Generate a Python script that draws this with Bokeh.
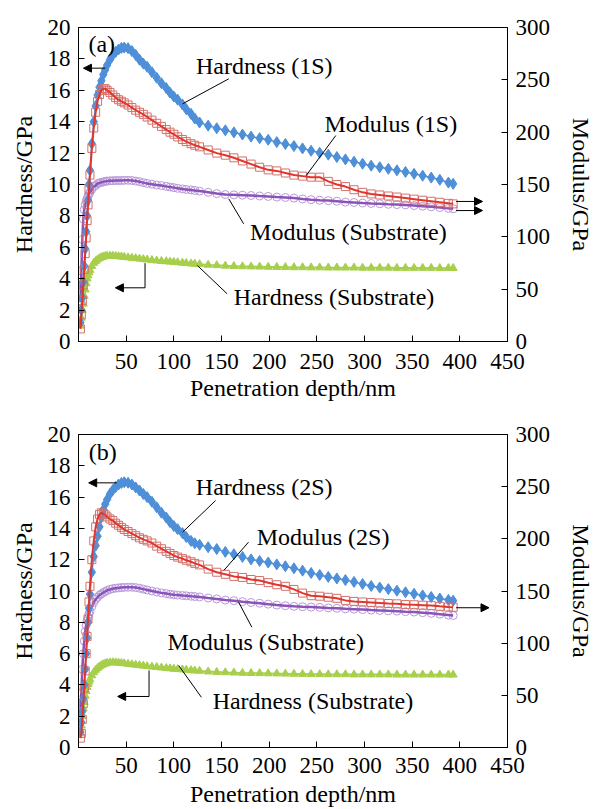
from bokeh.plotting import figure
from bokeh.models import (Range1d, LinearAxis, FixedTicker, Label, Arrow,
                          NormalHead, ColumnDataSource)
from bokeh.layouts import column
from bokeh.embed import file_html
from bokeh.resources import INLINE

# ---------------- data ----------------
depth_nm = [2, 3, 4, 5, 6, 7, 8, 9, 10, 11, 12,
            14, 16, 18, 20, 22, 24, 26, 28, 30,
            33, 36, 39, 42, 45, 48,
            52, 56, 60, 64, 68, 72,
            77, 82, 87, 92, 96, 100,
            104, 109, 113, 118, 122, 127,
            136, 145, 154, 163, 172, 181, 190,
            199, 208, 217, 226, 235, 244, 253, 262, 271, 280,
            289, 298, 307, 316, 325, 334, 343, 352, 361, 370,
            379, 388, 393]

# panel (a)
hard_1s = [1.2, 2.0, 2.8, 3.8, 4.8, 5.9, 7.0, 8.0, 9.0, 10.0, 10.9,
           12.6, 14.0, 15.0, 15.7, 16.2, 16.6, 17.0, 17.3, 17.6,
           17.95, 18.25, 18.45, 18.6, 18.7, 18.72,
           18.68, 18.5, 18.25, 17.95, 17.7, 17.5,
           17.15, 16.8, 16.45, 16.15, 15.85, 15.6,
           15.4, 15.1, 14.8, 14.5, 14.2, 13.95,
           13.75, 13.58, 13.45, 13.32, 13.18, 13.05, 12.95,
           12.85, 12.7, 12.58, 12.45, 12.3, 12.15, 12.02, 11.9, 11.75, 11.6,
           11.45, 11.32, 11.2, 11.1, 11.0, 10.9, 10.8, 10.68, 10.56, 10.44,
           10.3, 10.12, 10.04]
mod_1s = [12, 25.5, 39, 54, 69, 84, 99, 115.5, 130.5, 145.5, 159,
          184.5, 204, 219, 229.5, 236, 240, 241.5, 241.5, 240,
          238, 235.5, 233, 231, 229.5, 228,
          226, 223.5, 221, 219, 217, 214.5,
          211.5, 208.5, 205.5, 202.5, 200, 198,
          195.5, 193, 191, 189, 187.5, 186,
          183, 180, 178, 175.5, 172.5, 169.5, 166.5,
          164, 163, 161, 159, 158, 157, 157, 153, 150, 148,
          145, 142.5, 141, 140, 139, 138, 137, 136, 135, 134,
          133, 132, 131.5]
mod_sub_a = [37.5, 67.5, 97.5, 117, 126, 130.5, 134, 136.5, 139, 141, 142.5,
             145.5, 148, 149, 151, 151.5, 152, 152.5, 153, 153.3,
             153.5, 153.6, 153.8, 153.8, 153.8, 154,
             154, 153.8, 153.3, 152.7, 151.8, 151,
             150.3, 149.5, 149, 148.2, 147.6, 147,
             146.4, 145.8, 145.3, 144.8, 144.3, 143.7,
             142.5, 141.3, 140.4, 140.1, 139.8, 139.5, 139,
             138.6, 138, 137.6, 137, 136.2, 135.5, 135, 134.6, 134, 133.2,
             132.8, 132.3, 131.9, 131.6, 131.1, 130.8, 130.5, 129.9, 129.3, 128.7,
             128, 127.2, 126.8]
hard_sub_a = [1.0, 1.5, 2.0, 2.4, 2.9, 3.3, 3.7, 4.0, 4.2, 4.4, 4.55,
              4.8, 5.0, 5.12, 5.22, 5.3, 5.36, 5.4, 5.43, 5.45,
              5.46, 5.46, 5.44, 5.42, 5.4, 5.38,
              5.35, 5.32, 5.3, 5.27, 5.24, 5.21,
              5.18, 5.15, 5.12, 5.1, 5.08, 5.06,
              5.04, 5.01, 4.99, 4.96, 4.94, 4.92,
              4.88, 4.85, 4.82, 4.8, 4.78, 4.77, 4.76,
              4.75, 4.74, 4.73, 4.72, 4.72, 4.71, 4.71, 4.7, 4.7, 4.7,
              4.7, 4.69, 4.69, 4.69, 4.69, 4.68, 4.68, 4.68, 4.68, 4.68,
              4.67, 4.67, 4.67]

# panel (b)
hard_2s = [1.0, 1.6, 2.3, 3.1, 4.0, 5.0, 6.0, 7.0, 8.0, 8.9, 9.8,
           11.2, 12.2, 12.9, 13.5, 14.1, 14.7, 15.2, 15.55, 15.85,
           16.2, 16.45, 16.65, 16.8, 16.9, 16.95,
           16.92, 16.8, 16.62, 16.42, 16.2, 16.0,
           15.7, 15.35, 15.0, 14.7, 14.4, 14.15,
           13.95, 13.7, 13.45, 13.2, 13.05, 12.95,
           12.8, 12.68, 12.5, 12.35, 12.18, 12.02, 11.92,
           11.82, 11.7, 11.58, 11.45, 11.3, 11.15, 11.02, 10.9, 10.8, 10.7,
           10.58, 10.45, 10.32, 10.22, 10.12, 10.02, 9.92, 9.82, 9.72, 9.62,
           9.52, 9.43, 9.38]
mod_2s = [9, 13.5, 27, 42, 57, 73.5, 90, 106.5, 123, 139.5, 154.5,
          180, 198, 211.5, 219, 223.5, 225, 224, 223, 221,
          219, 217.5, 215, 213, 211, 209,
          207, 205, 203, 201, 199.5, 198,
          196, 193, 190.5, 188, 186, 184,
          182.5, 181, 179.5, 178, 176.5, 175,
          171, 168, 166, 164, 163, 161, 160,
          158, 156, 154.5, 151.5, 148, 145.5, 145, 144, 143, 141,
          140, 139.5, 139, 138.5, 138, 137.7, 137, 136.8, 136.4, 136,
          135.3, 134.7, 134.4]
mod_sub_b = [30, 52.5, 75, 90, 102, 111, 117, 121.5, 125, 128, 130.5,
             135, 139, 142, 144, 146, 147.3, 148.5, 149.5, 150.5,
             151.5, 152.3, 152.7, 153, 153.3, 153.5,
             153.6, 153.6, 153.3, 152.7, 151.8, 150.9,
             150, 149.1, 148.2, 147.5, 146.9, 146.4,
             146.1, 145.7, 145.4, 145, 144.7, 144.3,
             143.3, 142.4, 141.3, 140.7, 139.8, 139, 138.3,
             137.4, 136.5, 135.9, 135.3, 134.9, 134.6, 134.3, 133.8, 133.4, 132.9,
             132.6, 132.2, 131.7, 131.4, 131, 130.7, 130.2, 129.8, 129.2, 128.6,
             127.8, 126.9, 126.5]
hard_sub_b = [0.9, 1.4, 2.0, 2.5, 2.9, 3.3, 3.6, 3.85, 4.05, 4.2, 4.35,
              4.6, 4.8, 4.95, 5.07, 5.17, 5.25, 5.31, 5.36, 5.4,
              5.43, 5.44, 5.43, 5.41, 5.39, 5.37,
              5.34, 5.31, 5.28, 5.25, 5.22, 5.19,
              5.16, 5.13, 5.1, 5.07, 5.05, 5.02,
              5.0, 4.98, 4.96, 4.93, 4.91, 4.89,
              4.85, 4.82, 4.8, 4.78, 4.76, 4.75, 4.74,
              4.73, 4.72, 4.71, 4.7, 4.69, 4.68, 4.68, 4.67, 4.67, 4.67,
              4.66, 4.66, 4.66, 4.66, 4.66, 4.65, 4.65, 4.65, 4.65, 4.65,
              4.65, 4.65, 4.65]

x_ticks = [50, 100, 150, 200, 250, 300, 350, 400, 450]
hard_ticks = [0, 2, 4, 6, 8, 10, 12, 14, 16, 18, 20]
mod_ticks = [0, 50, 100, 150, 200, 250, 300]

x_label = "Penetration depth/nm"
left_label = "Hardness/GPa"
right_label = "Modulus/GPa"

# annotations (data units of depth / hardness)
labels_a = [("(a)", 10.4, 18.95), ("Hardness (1S)", 123.2, 17.55),
            ("Modulus (1S)", 258.0, 13.87), ("Modulus (Substrate)", 180.0, 6.95),
            ("Hardness (Substrate)", 162.8, 2.82)]
leaders_a = [(157.6, 16.73, 109.2, 15.14), (269.9, 13.12, 238.8, 10.57),
             (157.6, 9.09, 173.2, 7.5), (124.7, 4.84, 155.9, 3.04),
             (69.8, 4.99, 69.8, 3.42)]
arrows_a = [(28.0, 17.41, 5.2, 17.41), (69.8, 3.42, 38.7, 3.42),
            (396.1, 8.92, 423.8, 8.92), (396.1, 8.34, 423.8, 8.34)]

labels_b = [("(b)", 10.7, 18.87), ("Hardness (2S)", 123.1, 16.63),
            ("Modulus (2S)", 187.0, 13.44), ("Modulus (Substrate)", 93.3, 6.73),
            ("Hardness (Substrate)", 140.7, 3.0)]
leaders_b = [(143.8, 15.78, 109.2, 13.76), (178.3, 13.12, 152.4, 11.31),
             (168.0, 9.28, 181.8, 7.69), (105.1, 5.24, 128.9, 3.21),
             (74.0, 4.92, 74.0, 3.26)]
arrows_b = [(40.1, 16.91, 10.7, 16.91), (74.0, 3.26, 41.1, 3.26),
            (396.1, 8.93, 430.6, 8.93)]

FONT = "Liberation Serif"
BLUE = "#4d8fd8"
RED_LINE = "#e2352d"
RED_MARK = "#d4706a"
PURPLE_LINE = "#8b52b8"
PURPLE_MARK = "#b79ad9"
GREEN = "#a7cf4b"


def style_axis(ax, tick_standoff, label_standoff):
    ax.major_tick_in = 6
    ax.major_tick_out = 0
    ax.minor_tick_line_color = None
    ax.axis_line_color = "black"
    ax.major_tick_line_color = "black"
    ax.major_label_text_font = FONT
    ax.major_label_text_font_size = "23px"
    ax.major_label_text_color = "black"
    ax.major_label_standoff = tick_standoff
    ax.axis_label_text_font = FONT
    ax.axis_label_text_font_size = "24px"
    ax.axis_label_text_font_style = "normal"
    ax.axis_label_text_color = "black"
    ax.axis_label_standoff = label_standoff


def make_panel(height, top, bottom, hard_f, mod_f, mod_s, hard_s,
               labels, leaders, arrows, tick_standoff, xlab_standoff):
    p = figure(width=597, height=height, output_backend="svg",
               toolbar_location=None,
               x_range=Range1d(0, 450), y_range=Range1d(0, 20),
               min_border_left=78, min_border_right=85,
               min_border_top=top, min_border_bottom=bottom)
    p.extra_y_ranges = {"mod": Range1d(0, 300)}
    p.xgrid.visible = False
    p.ygrid.visible = False
    p.outline_line_color = "black"
    p.outline_line_width = 1
    p.outline_line_alpha = 1
    p.background_fill_color = "white"
    p.border_fill_color = "white"

    src = ColumnDataSource(dict(x=depth_nm, hf=hard_f, mf=mod_f,
                                ms=mod_s, hs=hard_s))
    # hardness substrate
    p.line("x", "hs", source=src, line_color=GREEN, line_width=2)
    p.scatter("x", "hs", source=src, marker="triangle", size=8,
              fill_color=GREEN, line_color=GREEN)
    # modulus substrate
    p.scatter("x", "ms", source=src, marker="circle", size=8,
              fill_color=None, line_color=PURPLE_MARK, line_width=1,
              y_range_name="mod")
    p.line("x", "ms", source=src, line_color=PURPLE_LINE, line_width=2.5,
           y_range_name="mod")
    # hardness film
    p.line("x", "hf", source=src, line_color=BLUE, line_width=1.5)
    p.scatter("x", "hf", source=src, marker="diamond", size=11,
              fill_color=BLUE, line_color=BLUE)
    # modulus film
    p.scatter("x", "mf", source=src, marker="square", size=8,
              fill_color=None, line_color=RED_MARK, line_width=1,
              y_range_name="mod")
    p.line("x", "mf", source=src, line_color=RED_LINE, line_width=2,
           y_range_name="mod")

    # axes
    style_axis(p.xaxis[0], tick_standoff, xlab_standoff)
    p.xaxis[0].ticker = FixedTicker(ticks=x_ticks)
    p.xaxis[0].axis_label = x_label
    style_axis(p.yaxis[0], 8, 8)
    p.yaxis[0].ticker = FixedTicker(ticks=hard_ticks)
    p.yaxis[0].axis_label = left_label

    rax = LinearAxis(y_range_name="mod", ticker=FixedTicker(ticks=mod_ticks),
                     axis_label=right_label)
    style_axis(rax, 8, 15)
    p.add_layout(rax, "right")

    for txt, lx, ly in labels:
        p.add_layout(Label(x=lx, y=ly, text=txt, text_font=FONT,
                           text_font_size="24px", text_align="left",
                           text_baseline="middle", text_color="black"))
    for x0, y0, x1, y1 in leaders:
        p.add_layout(Arrow(x_start=x0, y_start=y0, x_end=x1, y_end=y1,
                           end=None, line_color="black", line_width=1))
    for x0, y0, x1, y1 in arrows:
        p.add_layout(Arrow(x_start=x0, y_start=y0, x_end=x1, y_end=y1,
                           end=NormalHead(size=8, line_width=1,
                                          fill_color="black",
                                          line_color="black"),
                           line_color="black", line_width=1))
    return p


pa = make_panel(408, 27, 67, hard_1s, mod_1s, mod_sub_a, hard_sub_a,
                labels_a, leaders_a, arrows_a, 12, 3)
pb = make_panel(401, 26, 62, hard_2s, mod_2s, mod_sub_b, hard_sub_b,
                labels_b, leaders_b, arrows_b, 10, 5)

layout = column(pa, pb)
open("out.html", "w").write(file_html(layout, INLINE))
